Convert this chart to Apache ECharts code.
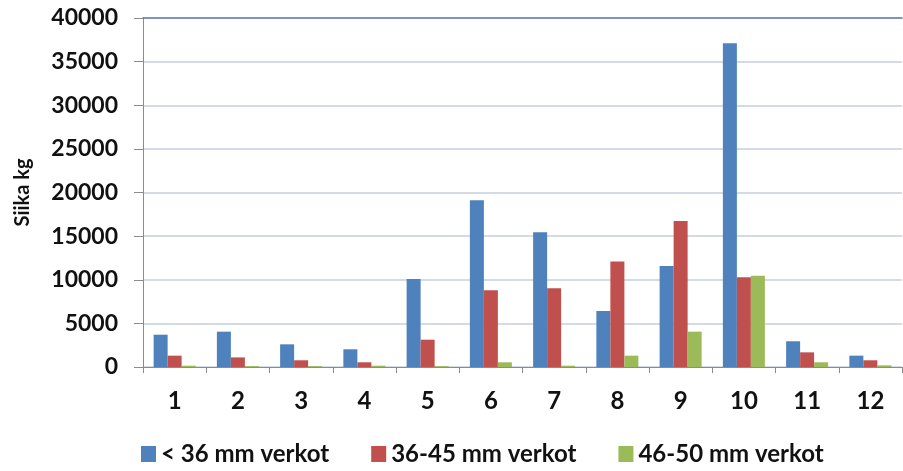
<!DOCTYPE html>
<html>
<head>
<meta charset="utf-8">
<script src="https://cdn.jsdelivr.net/npm/echarts@6/dist/echarts.min.js"></script>
<style>
  html, body { margin: 0; padding: 0; background: #fff; }
  #chart { width: 903px; height: 471px; }
</style>
</head>
<body>
<div id="chart"></div>
<script>
// kuukaudet / categories
const months = ['1', '2', '3', '4', '5', '6', '7', '8', '9', '10', '11', '12'];
const seriesNames = ['< 36 mm verkot', '36-45 mm verkot', '46-50 mm verkot'];
const under36 = [3700, 4050, 2600, 2030, 10100, 19100, 15450, 6420, 11580, 37100, 2950, 1300];
const mm36to45 = [1300, 1100, 770, 540, 3130, 8800, 9020, 12100, 16730, 10280, 1680, 770];
const mm46to50 = [150, 100, 100, 150, 100, 540, 150, 1300, 4050, 10470, 540, 190];
const yTicks = [0, 5000, 10000, 15000, 20000, 25000, 30000, 35000, 40000];

const colors = ['#4F81BD', '#C0504D', '#9BBB59'];
const font = 'Lato, "Open Sans", sans-serif';

const chart = echarts.init(document.getElementById('chart'));
const values = [under36, mm36to45, mm46to50];

chart.setOption({
  animation: false,
  color: colors,
  grid: { left: 143, right: 1, top: 18, bottom: 104 },
  legend: {
    bottom: 0,
    left: 136,
    itemWidth: 15,
    itemHeight: 16,
    itemGap: 42,
    icon: 'rect',
    textStyle: { fontFamily: font, fontSize: 24, fontWeight: 'bold', color: '#111' },
    data: seriesNames
  },
  xAxis: [{
    type: 'category',
    data: months,
    axisLine: { lineStyle: { color: '#8c8c8c', width: 1 } },
    axisTick: { show: true, length: 6, lineStyle: { color: '#8c8c8c' } },
    axisLabel: { fontFamily: font, fontSize: 24, fontWeight: 'bold', color: '#111', margin: 22 }
  }, {
    // ylin reunaviiva
    type: 'category',
    position: 'top',
    data: months,
    axisLine: { lineStyle: { color: '#5f7fae', width: 1.5 } },
    axisTick: { show: false },
    axisLabel: { show: false }
  }],
  yAxis: {
    type: 'value',
    min: yTicks[0],
    max: yTicks[yTicks.length - 1],
    interval: 5000,
    name: 'Siika kg',
    nameLocation: 'middle',
    nameGap: 110,
    nameTextStyle: { fontFamily: font, fontSize: 20, fontWeight: 'bold', color: '#111' },
    axisLine: { show: true, lineStyle: { color: '#8c8c8c' } },
    axisTick: { show: true, length: 9, lineStyle: { color: '#8c8c8c' } },
    axisLabel: {
      fontFamily: font, fontSize: 23, fontWeight: 'bold', color: '#111', margin: 25,
      formatter: v => String(v)
    },
    splitLine: { lineStyle: { color: '#c5cfdd', width: 1.5 } }
  },
  series: seriesNames.map((name, i) => ({
    name: name,
    type: 'bar',
    data: values[i],
    barWidth: 14,
    barGap: '0%',
    itemStyle: { color: colors[i] }
  }))
});
</script>
</body>
</html>
